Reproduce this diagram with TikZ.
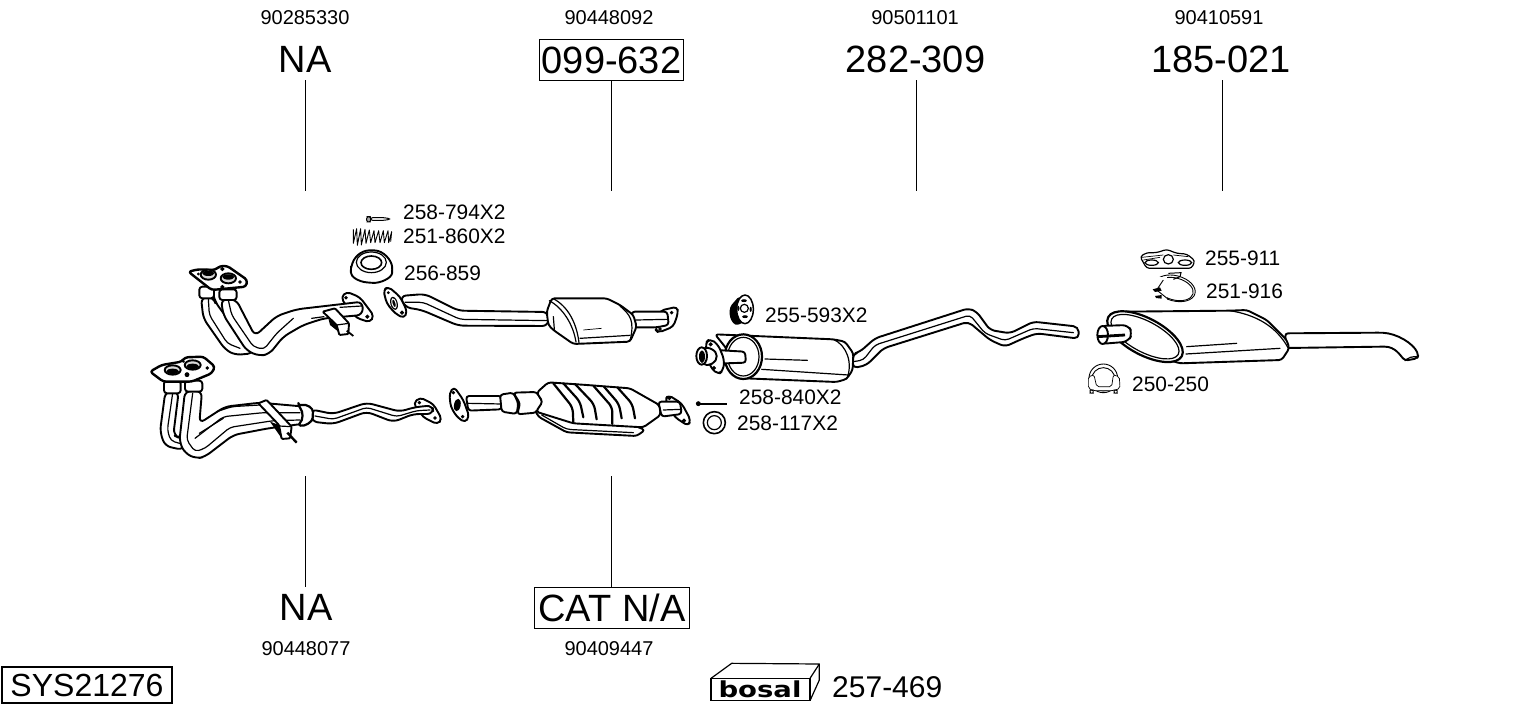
\documentclass[tikz,border=0pt]{standalone}
\usepackage{fontspec}
\setmainfont{Liberation Sans}
\newfontfamily\logofont{DejaVu Sans}
\tikzset{
 small/.style={font=\fontsize{20}{20}\selectfont,inner sep=0pt},
 part/.style={font=\fontsize{20.9}{21}\selectfont,inner sep=0pt,anchor=west},
 big/.style={font=\fontsize{38}{38}\selectfont,inner sep=0pt,minimum height=41pt},
 boxed/.style={big,draw,line width=1.1pt,minimum width=144pt},
 leader/.style={line width=1.1pt},
 o/.style={draw=black,fill=white,line width=1.9pt,rounded corners=3pt,line join=round},
 op/.style={o,rounded corners=6pt},
 h/.style={draw=black,fill=black,line width=.8pt},
 l/.style={draw=black,line width=1.2pt,rounded corners=4pt,line cap=round},
 t/.style={draw=black,line width=.7pt,rounded corners=2pt},
 rib/.style={line width=2.2pt,rounded corners=5pt,line cap=round},
 za/.style={shift={(140,190)},scale=1/3},
 zb/.style={shift={(380,270)},scale=1/3},
 zc/.style={shift={(690,280)},scale=1/3},
 zd/.style={shift={(1080,240)},scale=1/3},
 ze/.style={shift={(700,650)},scale=1/3},
}
\begin{document}
\begin{tikzpicture}[x=1pt,y=-1pt]
\useasboundingbox (0,0) rectangle (1530,711);
% --- top labels
\node[small] (n1) at (305,18) {90285330};
\node[small] (n2) at (609,18) {90448092};
\node[small] (n3) at (915,18) {90501101};
\node[small] (n4) at (1219,18) {90410591};
\node[big,anchor=south] (t1) at (305,80.5) {NA};
\node[boxed,anchor=south] (t2) at (611.5,81) {099-632};
\node[big,anchor=south] (t3) at (915.5,80.5) {282-309};
\node[big,anchor=south] (t4) at (1221,80.5) {185-021};
\coordinate (e1) at (305.5,191);\coordinate (e2) at (611.5,191);\coordinate (e3) at (916.5,191);\coordinate (e4) at (1222.5,191);
\draw[leader] (t1.south -| e1) -- (e1);
\draw[leader] (t2.south -| e2) -- (e2);
\draw[leader] (t3.south -| e3) -- (e3);
\draw[leader] (t4.south -| e4) -- (e4);
% --- bottom labels
\node[big,anchor=north] (b1) at (306,587) {NA};
\node[boxed,anchor=north,minimum width=155pt] (b2) at (612,587) {CAT N/A};
\coordinate (f1) at (305.5,476);\coordinate (f2) at (611.5,476);
\draw[leader] (f1) -- (f1 |- b1.north);
\draw[leader] (f2) -- (f2 |- b2.north);
\node[small] (n5) at (306,649) {90448077};
\node[small] (n6) at (609,649) {90409447};
\node[draw,line width=1.1pt,inner sep=0pt,minimum width=170pt,minimum height=36pt,font=\fontsize{32}{32}\selectfont] (sys) at (87,685) {SYS21276};
\node[inner sep=0pt,font=\fontsize{30}{30}\selectfont,anchor=west] (kit) at (832,687) {257-469};
% --- part labels
\node[part] (p1) at (403,212) {258-794X2};
\node[part] (p2) at (403,236) {251-860X2};
\node[part] (p3) at (404,273) {256-859};
\node[part] (p4) at (765,315) {255-593X2};
\node[part] (p5) at (739,397) {258-840X2};
\node[part] (p6) at (737,423) {258-117X2};
\node[part] (p7) at (1205,258) {255-911};
\node[part] (p8) at (1206,291) {251-916};
\node[part] (p9) at (1132,384) {250-250};
% --- upper front pipe
\begin{scope}[za]
 % bolt
 \draw[t,fill=black!35,line width=1pt] (680,80) rectangle (692,96);
 \draw[t,fill=white,line width=1pt] (692,83) -- (735,83) -- (752,87) -- (735,91) -- (692,91) -- cycle;
 % spring
 \draw[line width=.9pt,line join=round] (640,118) -- (640,160) -- (650,116) -- (652,166) -- (662,116) -- (664,165) -- (675,118) -- (678,160) -- (688,120) -- (692,158) -- (702,122) -- (705,158) -- (716,122) -- (720,158) -- (730,122) -- (733,158) -- (744,122) -- (746,158) -- (755,125) -- (752,155);
 % gasket
 \draw[o] (633,238) .. controls (640,200) and (665,182) .. (695,181) .. controls (730,182) and (755,210) .. (757,240) .. controls (755,265) and (720,280) .. (690,278) .. controls (655,275) and (632,260) .. (633,238) -- cycle;
 \draw[l] (694,217) ellipse [x radius=45,y radius=31];
 \draw[l,line width=1.6pt] (694,218) ellipse [x radius=31,y radius=20];
 % back pipe
 \draw[op] (183,322) -- (190,385) -- (255,478) -- (285,495) -- (340,490) -- (340,440) -- (280,410) -- (225,335) -- (222,322) -- cycle;
 \draw[l] (205,325) -- (208,375) -- (262,460) -- (300,475);
 % right flange
 \draw[o,rounded corners=4pt] (603,322) -- (620,305) -- (660,322) -- (702,378) -- (690,397) -- (650,384) -- (620,350) -- cycle;
 \draw[h] (618,323) circle (4);\draw[h] (682,380) circle (5);
 % front pipe
 \draw[op] (243,328) -- (250,375) -- (320,482) -- (358,498) -- (388,492) -- (430,440) -- (490,405) -- (552,385) -- (668,375) -- (668,335) -- (470,358) -- (410,378) -- (345,438) -- (288,328) -- cycle;
 \draw[l] (265,330) -- (275,375) -- (340,470) -- (372,478) -- (410,430) -- (460,385);
 \draw[l] (515,385) -- (552,380);
 \draw[l] (600,352) -- (665,348);
 % bracket
 \draw[o,rounded corners=1pt] (548,365) -- (585,355) -- (627,400) -- (625,432) -- (598,435) -- (590,405) -- cycle;
 \draw[l] (590,405) -- (627,400);
 \fill (565,385) -- (590,405) -- (595,425) -- (570,405) -- cycle;
 \draw[line width=1.8pt] (620,422) -- (640,438);
 % flange
 \draw[o] (178,290) rectangle (222,325);
 \draw[o] (238,298) rectangle (290,330);
 \draw[o,line width=2.4pt] (145,245) -- (175,238) -- (225,240) -- (240,228) -- (262,228) -- (322,270) -- (318,290) -- (215,300) -- cycle;
 \draw[o,fill=black!15] (205,254) ellipse [x radius=23,y radius=15];
 \draw[o,fill=black!15] (265,265) ellipse [x radius=23,y radius=15];
 \fill (205,250) ellipse [x radius=18,y radius=8];
 \fill (265,261) ellipse [x radius=18,y radius=8];
 \draw[h] (247,237) circle (5);\draw[h] (300,276) circle (4);\draw[h] (247,291) circle (5);\draw[h] (175,252) circle (3);
% --- lower front pipe
 \draw[op] (76,605) -- (60,725) -- (75,768) -- (130,780) -- (150,730) -- (120,745) -- (100,735) -- (116,605) -- cycle;
 \draw[l] (98,610) -- (82,720) -- (92,752) -- (125,762);
 \draw[op] (135,603) -- (118,755) -- (135,790) -- (170,806) -- (195,800) -- (280,735) -- (385,715) -- (500,700) -- (495,650) -- (360,638) -- (255,650) -- (178,700) -- (186,603) -- cycle;
 \draw[l] (158,610) -- (140,750) -- (165,785) -- (195,775) -- (270,712) -- (400,692) -- (480,690);
 \draw[l] (165,745) -- (250,680) -- (370,668) -- (480,668);
 \draw[l] (178,730) -- (250,685);
 \draw[l] (230,665) -- (275,650) -- (360,645);
 \draw[o] (72,572) rectangle (122,610);
 \draw[o] (135,572) rectangle (187,605);
 \draw[o,line width=2.4pt] (30,545) -- (65,525) -- (125,515) -- (135,502) -- (190,500) -- (225,530) -- (215,550) -- (155,575) -- (70,575) -- cycle;
 \draw[o,fill=black!15] (98,540) ellipse [x radius=24,y radius=14];
 \draw[o,fill=black!15] (158,525) ellipse [x radius=24,y radius=14];
 \fill (98,544) ellipse [x radius=19,y radius=8];
 \fill (158,529) ellipse [x radius=19,y radius=8];
 \draw[h] (141,554) circle (6);\draw[h] (202,534) circle (4);\draw[h] (130,514) circle (3);
 % tail flange
 \draw[o,rounded corners=4pt] (820,640) -- (840,622) -- (880,642) -- (906,688) -- (892,703) -- (850,682) -- cycle;
 \draw[h] (838,638) circle (4);\draw[h] (885,684) circle (4);
 % tail
 \draw[op] (512,658) -- (580,672) -- (680,638) -- (780,665) -- (822,652) -- (878,646) -- (880,672) -- (820,672) -- (760,696) -- (680,665) -- (580,702) -- (515,695) -- cycle;
 \draw[l] (525,678) -- (580,688) -- (680,652) -- (770,680) -- (830,662) -- (870,660);
 % collar
 \draw[o,line width=2.2pt] (475,648) .. controls (500,640) and (520,655) .. (518,675) .. controls (518,695) and (495,710) .. (473,705) .. controls (490,690) and (490,665) .. (475,648) -- cycle;
 % bracket
 \draw[o,rounded corners=1pt] (355,640) -- (380,630) -- (455,710) -- (450,745) -- (425,747) -- (417,705) -- cycle;
 \draw[l] (417,708) -- (455,710);
 \fill (390,695) -- (417,705) -- (425,745) -- cycle;
 \draw[line width=2.4pt] (442,728) -- (470,758);
\end{scope}
% --- catalysts
\begin{scope}[zb]
 % upper pipe
 \draw[op] (60,78) -- (135,72) -- (235,122) -- (505,126) -- (505,168) -- (235,167) -- (125,120) -- (75,112) -- cycle;
 \draw[l] (75,97) -- (130,97) -- (240,148) -- (510,152);
 \draw[o,rounded corners=4pt] (10,60) -- (25,50) -- (60,80) -- (82,125) -- (72,145) -- (45,130) -- (20,100) -- cycle;
 \fill (42,100) ellipse [x radius=11,y radius=20,rotate=15];
 \draw[line width=1pt,draw=white] (42,100) ellipse [x radius=6,y radius=14,rotate=15];
 \draw[h] (66,128) circle (5);\draw[h] (25,68) circle (3);
 % outlet
 \draw[o,rounded corners=4pt] (840,122) -- (892,110) -- (894,130) -- (880,170) -- (835,188) -- (825,178) -- (835,150) -- cycle;
 \draw[h] (875,128) circle (4);\draw[h] (840,177) circle (4);
 \draw[o] (755,125) -- (862,125) -- (866,165) -- (830,172) -- (760,172) -- cycle;
 \draw[l] (768,150) -- (865,148);
 % cat
 \draw[o] (500,125) -- (515,85) -- (680,85) -- (720,105) -- (760,135) -- (770,170) -- (750,215) -- (580,222) -- (520,180) -- (505,165) -- cycle;
 \draw[l] (520,86) .. controls (565,110) and (590,160) .. (597,218);
 \draw[l] (508,92) .. controls (550,115) and (580,165) .. (588,216);
 \draw[l] (520,140) -- (523,178);
 \draw[t] (610,180) -- (665,175);
 \draw[l] (600,205) -- (750,196);
 \draw[l] (720,108) .. controls (750,135) and (765,150) .. (750,213);
 % lower: left pipe and cat
 \draw[o] (258,378) -- (365,378) -- (365,418) -- (265,422) -- cycle;
 \draw[l] (265,400) -- (365,402);
 \draw[o,rounded corners=4pt] (208,370) -- (222,350) -- (250,390) -- (268,440) -- (255,458) -- (230,440) -- (212,410) -- cycle;
 \fill (232,405) ellipse [x radius=10,y radius=19,rotate=-10];
 \draw[h] (220,368) circle (4);\draw[h] (248,440) circle (4);
 % step
 \draw[o] (360,374) -- (400,368) -- (415,400) -- (410,432) -- (365,425) -- cycle;
 \draw[o] (400,368) -- (470,366) -- (490,400) -- (468,428) -- (412,433) -- (420,400) -- cycle;
 % lip
 \draw[o] (465,420) -- (475,440) -- (560,487) -- (770,498) -- (795,480) -- (700,440) -- cycle;
 \draw[l] (485,435) -- (560,478) -- (760,488);
 % outlet
 \draw[o,rounded corners=4pt] (855,390) -- (865,375) -- (905,400) -- (932,450) -- (925,468) -- (885,442) -- cycle;
 \draw[h] (868,385) circle (4);\draw[h] (912,452) circle (5);
 \draw[o] (835,395) -- (900,395) -- (905,432) -- (845,440) -- cycle;
 \draw[l] (850,420) -- (905,418);
 % body
 \draw[o] (470,368) -- (505,337) -- (620,345) -- (750,355) -- (838,405) -- (842,435) -- (790,472) -- (580,460) -- (468,425) -- (488,395) -- cycle;
 \draw[rib] (520,340) -- (578,412) -- (580,458);
 \draw[rib] (550,340) -- (600,395) -- (610,442);
 \draw[rib] (585,342) -- (642,402) -- (650,448);
 \draw[rib] (640,347) -- (697,412) -- (697,462);
 \draw[rib] (672,350) -- (717,402) -- (725,445);
 \draw[rib] (712,352) -- (757,402) -- (765,445);
\end{scope}
% --- middle silencer
\begin{scope}[zc]
 % hanger
 \draw[o,fill=black] (122,82) -- (150,50) -- (165,90) -- (160,125) -- (136,134) -- (122,112) -- cycle;
 \draw[o,line width=1.5pt] (165,88) ellipse [x radius=25,y radius=43];
 \draw[l] (163,85) circle (12);
 \draw[h] (162,62) ellipse [x radius=7,y radius=3];\draw[h] (165,110) ellipse [x radius=7,y radius=3];
 \draw[h] (145,85) ellipse [x radius=2,y radius=6];\draw[h] (182,88) ellipse [x radius=2,y radius=6];
 % tail pipe
 \draw[o,rounded corners=5pt] (488,222) -- (510,215) -- (555,175) -- (835,85) -- (860,95) -- (900,150) -- (960,160) -- (1030,125) -- (1165,140) -- (1167,176) -- (1040,160) -- (1000,175) -- (945,200) -- (900,180) -- (835,125) -- (580,205) -- (530,255) -- (488,265) -- cycle;
 \draw[l] (490,245) -- (520,240) -- (555,195) -- (840,105) -- (885,160) -- (945,182) -- (1030,145) -- (1150,158);
 % body
 \draw[o] (75,163) -- (430,178) -- (465,185) -- (490,220) -- (488,270) -- (470,297) -- (440,306) -- (165,295) -- (105,200) -- cycle;
 \draw[l] (225,237) -- (352,241);
 \draw[l] (215,268) -- (475,285);
 \draw[l] (430,178) .. controls (470,195) and (490,250) .. (470,297);
 \draw[o,line width=2.2pt] (160,230) ellipse [x radius=56,y radius=67];
 \draw[l] (160,230) ellipse [x radius=47,y radius=58];
 % inner pipe
 \draw[o] (40,208) -- (165,215) -- (168,248) -- (40,252) -- cycle;
 \draw[o,rounded corners=5pt] (45,190) -- (60,175) -- (85,195) -- (103,240) -- (100,270) -- (85,285) -- (60,260) -- cycle;
 \draw[h] (62,193) circle (5);\draw[h] (72,264) circle (5);
 \draw[o,rounded corners=5pt] (35,202) -- (68,205) -- (85,228) -- (68,255) -- (35,255) -- cycle;
 \draw[o] (35,228) ellipse [x radius=16,y radius=26];
 \fill (36,230) ellipse [x radius=9,y radius=19];
 % bolt + ring
 \draw[h] (25,371) circle (6);
 \draw[line width=1.8pt] (25,371) -- (112,371);
 \draw[o,line width=1.6pt] (73,428) circle (33);
 \draw[l] (73,428) circle (21);
\end{scope}
% --- rear silencer
\begin{scope}[zd]
 % hanger
 \draw[o,line width=1.2pt] (180,50) -- (200,38) -- (230,38) -- (260,28) -- (290,40) -- (320,42) -- (345,62) -- (335,85) -- (200,85) -- cycle;
 \draw[t] (186,52) -- (250,45);\draw[t] (190,60) -- (240,52);\draw[t] (280,45) -- (325,50);
 \draw[l,fill=white] (215,68) ellipse [x radius=20,y radius=8];
 \draw[l,fill=white] (265,58) ellipse [x radius=15,y radius=14];
 \draw[l,fill=white] (315,68) ellipse [x radius=20,y radius=8];
 % clamp
 \draw[line width=.9pt] (285,145) ellipse [x radius=62,y radius=38,rotate=-15];
 \draw[line width=.9pt] (285,147) ellipse [x radius=56,y radius=33,rotate=-15];
 \fill[white] (215,110) rectangle (262,195);
 \draw[line width=.9pt] (250,120) -- (230,150) -- (265,178);
 \fill (218,148) -- (240,142) -- (245,152) -- (225,156) -- cycle;
 \fill (225,168) -- (245,165) -- (245,176) -- (228,174) -- cycle;
 \draw[line width=1pt] (265,100) -- (303,98) -- (300,110) -- (280,118);
 % tail
 \draw[o] (615,280) -- (900,278) .. controls (950,280) and (1000,310) .. (1015,345) -- (1012,355) -- (975,362) .. controls (960,345) and (945,320) .. (905,320) -- (620,324) -- cycle;
 \draw[l] (975,362) -- (990,350) -- (1010,350);
 % body
 \draw[o] (95,245) -- (130,215) -- (450,212) -- (500,210) -- (560,240) -- (620,300) -- (628,325) -- (605,360) -- (300,370) -- (200,340) -- cycle;
 \draw[l] (320,320) -- (470,310);
 \draw[l] (318,342) -- (600,325);
 \draw[l] (450,212) .. controls (530,225) and (590,260) .. (625,325);
 \draw[o,line width=2.2pt] (195,290) ellipse [x radius=125,y radius=55,rotate=-28];
 \draw[l] (195,290) ellipse [x radius=113,y radius=46,rotate=-28];
 % tube
 \draw[o,rounded corners=6pt] (60,258) -- (145,255) -- (157,280) -- (145,305) -- (60,312) -- cycle;
 \draw[o] (68,285) ellipse [x radius=16,y radius=27];
 \draw[line width=2.8pt] (52,290) -- (135,285);
 % clamp
 \draw[line width=.9pt] (70,415) circle (43);
 \draw[line width=.9pt] (70,418) circle (35);
 \draw[t,fill=white] (25,410) -- (42,405) -- (50,440) -- (95,440) -- (100,405) -- (118,410) -- (120,445) -- (100,452) -- (40,452) -- (25,445) -- cycle;
 \draw[t] (30,450) rectangle (40,460);
 \draw[t] (102,450) rectangle (112,460);
\end{scope}
% --- kit box
\begin{scope}[ze]
 \draw[line width=1.2pt,fill=white] (33,85) rectangle (330,152);
 \draw[line width=1.2pt,line join=round] (33,85) -- (95,40) -- (358,42) -- (330,85);
 \draw[line width=1.2pt,line join=round] (358,42) -- (358,90) -- (330,152);
\end{scope}
\node[inner sep=0pt,xscale=1.25,font=\logofont\bfseries\fontsize{22}{22}\selectfont] (logo) at (760,689) {bosal};
\end{tikzpicture}
\end{document}
